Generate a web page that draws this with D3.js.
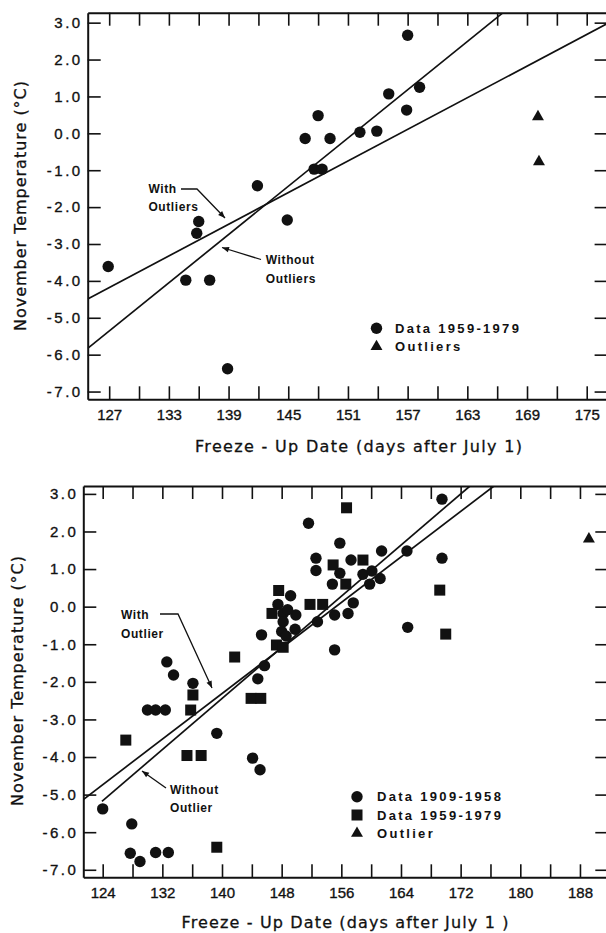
<!DOCTYPE html>
<html>
<head>
<meta charset="utf-8">
<script src="https://cdn.jsdelivr.net/npm/d3@7"></script>
<style>
  body { margin: 0; background: #fff; }
  svg { display: block; font-family: "DejaVu Sans", sans-serif; }
  .tick text { font-size: 15px; fill: #111; stroke: #111; stroke-width: 0.35px; }
  .note { font-family: "Liberation Sans", Arial, sans-serif; font-weight: bold; font-size: 12px; fill: #111; }
  .legend { font-family: "Liberation Sans", Arial, sans-serif; font-weight: bold; font-size: 13px; letter-spacing: 2.3px; fill: #111; }
  .title { font-size: 16px; fill: #111; stroke: #111; stroke-width: 0.3px; }
</style>
</head>
<body>
<svg id="chart" width="606" height="933"></svg>
<script>
// top panel, data 1959-1979
const topDays  = [157.0, 158.2, 155.1, 156.9, 148.0, 146.7, 149.2, 152.2, 153.9, 147.6,
                  148.4, 141.9, 144.9, 136.0, 135.8, 126.9, 134.7, 137.1, 138.9];
const topTemps = [2.66, 1.25, 1.07, 0.63, 0.48, -0.14, -0.14, 0.03, 0.06, -0.97,
                  -0.97, -1.42, -2.35, -2.39, -2.71, -3.61, -3.98, -3.98, -6.38];
const topOutlierDays  = [170.1, 170.2];
const topOutlierTemps = [0.45, -0.77];
const topFitWith    = [[124.84, -4.49], [177.1, 2.98]];
const topFitWithout = [[124.84, -5.83], [166.5, 3.25]];
const topXTicks  = d3.range(127, 176, 3);
const topXLabels = d3.range(127, 176, 6);

// bottom panel, data 1909-1958 (circles) and 1959-1979 (squares)
const histDays  = [169.5, 151.6, 155.8, 152.6, 152.6, 161.4, 164.8, 169.5, 157.3, 155.8,
                   158.9, 160.1, 161.2, 154.8, 159.8, 149.2, 157.6, 147.5, 148.2, 149.9,
                   148.2, 149.8, 148.0, 145.3, 152.8, 155.1, 156.9, 155.1, 145.7, 144.8,
                   164.9, 132.6, 133.5, 136.1, 130.0, 131.1, 132.4, 139.3, 144.1, 145.1,
                   124.0, 127.9, 127.7, 129.0, 131.1, 132.8, 148.8, 148.6];
const histTemps = [2.86, 2.22, 1.69, 1.29, 0.96, 1.48, 1.48, 1.29, 1.24, 0.89,
                   0.86, 0.95, 0.75, 0.60, 0.60, 0.29, 0.10, 0.06, -0.18, -0.22,
                   -0.40, -0.60, -0.66, -0.75, -0.40, -0.22, -0.18, -1.15, -1.57, -1.92,
                   -0.55, -1.47, -1.82, -2.04, -2.75, -2.75, -2.75, -3.37, -4.03, -4.34,
                   -5.38, -5.78, -6.56, -6.78, -6.54, -6.54, -0.08, -0.78];
const recentDays  = [156.7, 158.9, 154.9, 156.6, 169.2, 170.0, 147.6, 151.8, 153.5, 146.7,
                     147.3, 148.2, 141.7, 136.1, 135.8, 143.9, 145.2, 127.1, 135.3, 137.2, 139.3];
const recentTemps = [2.63, 1.24, 1.11, 0.60, 0.44, -0.73, 0.43, 0.06, 0.06, -0.18,
                     -1.02, -1.08, -1.34, -2.35, -2.75, -2.44, -2.44, -3.55, -3.96, -3.96, -6.40];
const botOutlierDays  = [189.2];
const botOutlierTemps = [1.80];
const botFitWith    = [[121.4, -5.13], [176.47, 3.21]];
const botFitWithout = [[123.9, -5.18], [173.25, 3.21]];
const botXTicks  = d3.range(124, 189, 4);
const botXLabels = d3.range(124, 189, 8);

const yTicks = d3.range(-7, 3.5, 1);

const svg = d3.select('#chart');
const defs = svg.append('defs');
defs.append('marker')
    .attr('id', 'arrow')
    .attr('viewBox', '0 0 10 10')
    .attr('refX', 10).attr('refY', 5)
    .attr('markerWidth', 9).attr('markerHeight', 7)
    .attr('markerUnits', 'userSpaceOnUse')
    .attr('orient', 'auto')
    .append('path').attr('d', 'M0,1 L10,5 L0,9 Z').attr('fill', '#111');

const panels = [
    {
        id: 'top',
        x: d3.scaleLinear().domain([124.84, 177.1]).range([87.7, 607.6]),
        y: d3.scaleLinear().domain([-7.21, 3.27]).range([399.3, 12.7]),
        xTicks: topXTicks, xLabels: topXLabels,
        series: [
            { days: topDays, temps: topTemps, shape: 'circle' },
            { days: topOutlierDays, temps: topOutlierTemps, shape: 'triangle' }
        ],
        fits: [topFitWith, topFitWithout],
        xTitle: 'Freeze - Up Date (days after July 1)', xTitlePos: [358.5, 452],
        yTitlePos: [26, 206],
        legend: [
            { shape: 'circle', text: 'Data 1959-1979' },
            { shape: 'triangle', text: 'Outliers' }
        ],
        legendPos: [376.5, 328.3, 395],
        notes: [
            { lines: ['With', 'Outliers'], at: [148.4, 192.5], path: 'M181,189 L197,189 L225,218' },
            { lines: ['Without', 'Outliers'], at: [265.8, 264], path: 'M261,259.5 L222,247.5' }
        ]
    },
    {
        id: 'bottom',
        x: d3.scaleLinear().domain([121.4, 191.8]).range([83.3, 608.3]),
        y: d3.scaleLinear().domain([-7.2, 3.21]).range([877.3, 486]),
        xTicks: botXTicks, xLabels: botXLabels,
        series: [
            { days: histDays, temps: histTemps, shape: 'circle' },
            { days: recentDays, temps: recentTemps, shape: 'square' },
            { days: botOutlierDays, temps: botOutlierTemps, shape: 'triangle' }
        ],
        fits: [botFitWith, botFitWithout],
        xTitle: 'Freeze - Up Date (days after July 1 )', xTitlePos: [345, 928],
        yTitlePos: [23, 681],
        legend: [
            { shape: 'circle', text: 'Data 1909-1958' },
            { shape: 'square', text: 'Data 1959-1979' },
            { shape: 'triangle', text: 'Outlier' }
        ],
        legendPos: [357, 796.7, 377],
        notes: [
            { lines: ['With', 'Outlier'], at: [121, 619], path: 'M160,614 L178,614 L212,688' },
            { lines: ['Without', 'Outlier'], at: [170, 793.5], path: 'M166,788 L142,771' }
        ]
    }
];

function drawShape(sel, shape) {
    if (shape === 'circle') {
        sel.append('circle').attr('r', 5.7);
    } else if (shape === 'square') {
        sel.append('rect').attr('x', -5.5).attr('y', -5.5).attr('width', 11).attr('height', 11);
    } else {
        sel.append('path').attr('d', d3.symbol(d3.symbolTriangle, 62)());
    }
}

panels.forEach(p => {
    const g = svg.append('g').attr('class', p.id);
    const [x0, x1] = p.x.range();
    const [y0, y1] = p.y.range();

    defs.append('clipPath').attr('id', 'clip-' + p.id)
        .append('rect')
        .attr('x', x0).attr('y', y1)
        .attr('width', x1 - x0).attr('height', y0 - y1);

    // axes with inward ticks on all four sides
    const fmtX = d => p.xLabels.includes(d) ? d : '';
    g.append('g').attr('transform', `translate(0,${y0})`)
        .call(d3.axisBottom(p.x).tickValues(p.xTicks).tickSize(-13).tickSizeOuter(0)
            .tickPadding(10).tickFormat(fmtX));
    g.append('g').attr('transform', `translate(0,${y1})`)
        .call(d3.axisTop(p.x).tickValues(p.xTicks).tickSize(-13).tickSizeOuter(0).tickFormat(''));
    g.append('g').attr('transform', `translate(${x0},0)`)
        .call(d3.axisLeft(p.y).tickValues(yTicks).tickSize(-13).tickSizeOuter(0)
            .tickPadding(5).tickFormat(d => d.toFixed(1)))
        .selectAll('text').style('letter-spacing', '2.5px');
    g.append('g').attr('transform', `translate(${x1},0)`)
        .call(d3.axisRight(p.y).tickValues(yTicks).tickSize(-13).tickSizeOuter(0).tickFormat(''));

    g.selectAll('.domain').attr('stroke', '#111').attr('stroke-width', 2);
    g.selectAll('.tick line').attr('stroke', '#111').attr('stroke-width', 1.6);

    // fitted lines
    const line = d3.line().x(d => p.x(d[0])).y(d => p.y(d[1]));
    g.append('g').attr('clip-path', `url(#clip-${p.id})`)
        .selectAll('path')
        .data(p.fits)
        .enter().append('path')
        .attr('d', line)
        .attr('fill', 'none')
        .attr('stroke', '#111')
        .attr('stroke-width', 1.7);

    // points
    p.series.forEach(s => {
        const pts = s.days.map((d, i) => [d, s.temps[i]]);
        g.append('g').attr('fill', '#111')
            .selectAll('g')
            .data(pts)
            .enter().append('g')
            .attr('transform', d => `translate(${p.x(d[0])},${p.y(d[1])})`)
            .each(function () { drawShape(d3.select(this), s.shape); });
    });

    // annotations
    p.notes.forEach(n => {
        g.append('path')
            .attr('d', n.path)
            .attr('fill', 'none')
            .attr('stroke', '#111')
            .attr('stroke-width', 1.3)
            .attr('marker-end', 'url(#arrow)');
        n.lines.forEach((t, i) => {
            g.append('text').attr('class', 'note')
                .attr('x', n.at[0]).attr('y', n.at[1] + i * 18.5)
                .style('letter-spacing', '0.6px')
                .text(t);
        });
    });

    // legend
    const [lx, ly, tx] = p.legendPos;
    p.legend.forEach((item, i) => {
        const row = g.append('g').attr('fill', '#111');
        const cy = ly + i * 18.3;
        drawShape(row.append('g').attr('transform', `translate(${lx},${cy})`), item.shape);
        row.append('text').attr('class', 'legend')
            .attr('x', tx).attr('y', cy + 4.7)
            .text(item.text);
    });

    // titles
    g.append('text').attr('class', 'title')
        .attr('x', p.xTitlePos[0]).attr('y', p.xTitlePos[1])
        .attr('text-anchor', 'middle')
        .attr('textLength', 327).attr('lengthAdjust', 'spacing')
        .text(p.xTitle);
    g.append('text').attr('class', 'title')
        .attr('transform', `translate(${p.yTitlePos[0]},${p.yTitlePos[1]}) rotate(-90)`)
        .attr('text-anchor', 'middle')
        .attr('textLength', 250).attr('lengthAdjust', 'spacing')
        .text('November Temperature (°C)');
});
</script>
</body>
</html>
